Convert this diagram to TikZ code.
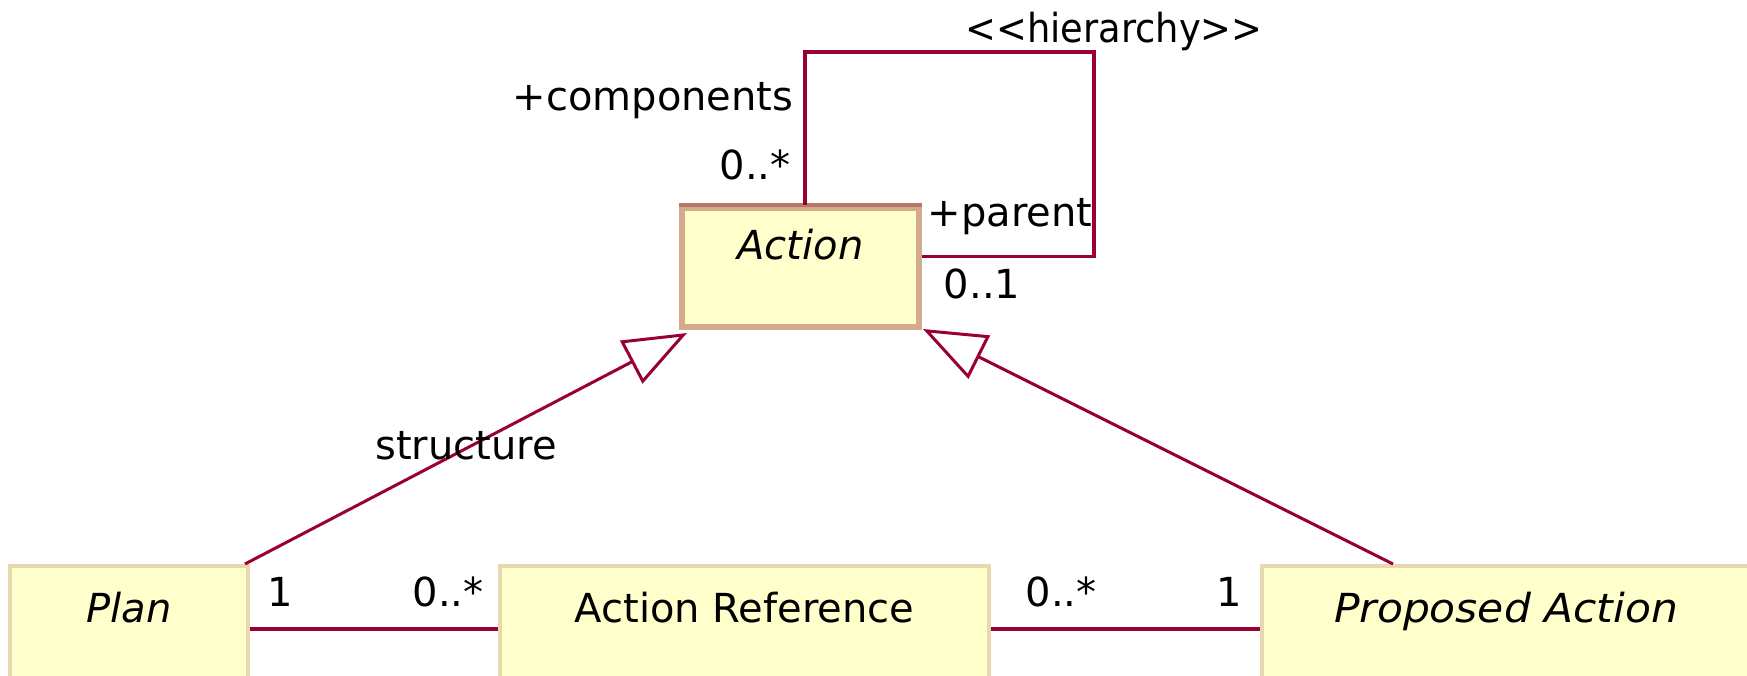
\documentclass[tikz,border=0pt]{standalone}
\usepackage{fontspec}
\setmainfont{DejaVu Sans}
\usetikzlibrary{arrows.meta,calc}
\definecolor{umlline}{RGB}{153,0,51}
\definecolor{umlfill}{RGB}{255,255,204}
\definecolor{umlborder}{RGB}{232,216,176}
\definecolor{actborder}{RGB}{210,170,140}
\definecolor{acttop}{RGB}{184,120,104}
\newcommand{\lt}{\mbox{<}}
\newcommand{\gtt}{\mbox{>}}
\begin{document}
\begin{tikzpicture}[x=1pt,y=-1pt,
  every node/.style={font=\fontsize{40}{48}\selectfont},
  classbox/.style={draw=umlborder,line width=4pt,fill=umlfill,inner ysep=0pt,inner xsep=0pt,
     anchor=north,text height=56pt,text depth=70pt},
  assoc/.style={draw=umlline,line width=3.6pt},
  gen/.style={draw=umlline,line width=3pt,-{Triangle[open,length=63pt,width=48pt]}},
  lbl/.style={inner sep=0pt,text height=29pt,text depth=0pt,anchor=center}]
\useasboundingbox (0,0) rectangle (1747,676);
\clip (0,0) rectangle (1747,676);
\fill[white] (0,0) rectangle (1747,676);

% classes
\node[classbox,minimum width=238pt,font=\fontsize{40}{48}\selectfont\itshape] (plan) at (129,564) {Plan};
\node[classbox,minimum width=489pt] (aref) at (744.5,564) {Action Reference};
\node[classbox,minimum width=498pt,font=\fontsize{40}{48}\selectfont\itshape] (prop) at (1511,564) {\hspace*{-10pt}\scalebox{1.06}[1]{Proposed Action}};
\node[draw=actborder,line width=6pt,fill=umlfill,inner ysep=0pt,inner xsep=0pt,anchor=north,
      minimum width=237pt,text height=52pt,text depth=67pt,font=\fontsize{40}{48}\selectfont\itshape]
      (action) at (800.5,205) {Action};
\draw[acttop,line width=4pt] (action.north west) -- (action.north east);

% self association
\coordinate (loopA) at ($(action.north)+(4.5,0)$);
\coordinate (loopB) at ($(action.east)+(0,-11)$);
\draw[assoc] (loopA) -- (loopA |- 0,52) -- (1094,52) -- (1094,0 |- loopB) -- (loopB);

% associations
\draw[assoc] (plan.east) -- (aref.west);
\draw[assoc] (aref.east) -- (prop.west);

% generalizations
\draw[gen] ($(plan.north east)+(-5,0)$) -- ($(action.south west)+(8,3)$);
\draw[gen] ($(prop.north)+(-118,0)$) -- ($(action.south east)+(1,-1)$);

% labels
\node[lbl,xscale=0.92] (hier) at (1114,28) {\lt\lt hierarchy\gtt\gtt};
\node[lbl] (comp) at (653,96) {+components};
\node[lbl] (m1) at (755,165) {0..*};
\node[lbl] (par) at (1010,212) {+parent};
\node[lbl] (m2) at (982,284) {0..1};
\node[lbl] (str) at (466,445) {structure};
\node[lbl] (m3) at (280,592) {1};
\node[lbl] (m4) at (448,592) {0..*};
\node[lbl] (m5) at (1061,592) {0..*};
\node[lbl] (m6) at (1229,592) {1};
\end{tikzpicture}
\end{document}
